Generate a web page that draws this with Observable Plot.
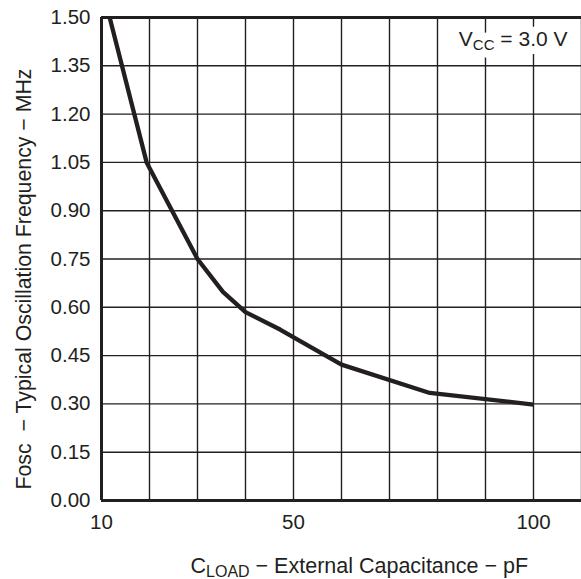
<!DOCTYPE html>
<html>
<head>
<meta charset="utf-8">
<script src="https://cdn.jsdelivr.net/npm/d3@7"></script>
<script src="https://cdn.jsdelivr.net/npm/@observablehq/plot@0.6"></script>
<style>
  html, body { margin: 0; padding: 0; background: #fff; }
  #chart svg { display: block; }
</style>
</head>
<body>
<div id="chart"></div>
<script>
// ---- data ----
const capacitance = [11.7, 19.4, 30, 35.3, 40, 47.2, 60, 78.4, 100];   // pF
const frequency   = [1.50, 1.05, 0.75, 0.648, 0.585, 0.531, 0.422, 0.334, 0.298]; // MHz
const xDomain = [10, 110];
const yDomain = [0, 1.5];
const xTicks = [10, 50, 100];
const xGrid = [10, 20, 30, 40, 50, 60, 70, 80, 90, 100, 110];
const yTicks = [0, 0.15, 0.30, 0.45, 0.60, 0.75, 0.90, 1.05, 1.20, 1.35, 1.50];
const vccText = ["VCC = 3.0 V"];
const xLabelText = ["CLOAD \u2212 External Capacitance \u2212 pF"];
const yLabelText = ["Fosc  \u2212 Typical Oscillation Frequency \u2212 MHz"];

const data = capacitance.map((c, i) => ({c, f: frequency[i]}));
const ink = "#231f20";
const vccOpts = {text: d => d, frameAnchor: "top-right", textAnchor: "end", lineAnchor: "top", dx: -14, dy: 14, fontSize: 21};

const chart = Plot.plot({
  width: 581,
  height: 579,
  marginLeft: 101,
  marginRight: 0,
  marginTop: 17,
  marginBottom: 79,
  style: {fontFamily: "'Liberation Sans', Arial, Helvetica, sans-serif", fontSize: "20px", color: ink, background: "white"},
  x: {type: "linear", domain: xDomain},
  y: {type: "linear", domain: yDomain},
  marks: [
    Plot.gridX(xGrid, {stroke: ink, strokeOpacity: 1, strokeWidth: 1.4}),
    Plot.gridY(yTicks, {stroke: ink, strokeOpacity: 1, strokeWidth: 1.4}),
    // white halo behind the Vcc note
    Plot.text(vccText, {...vccOpts, fill: "white", stroke: "white", strokeWidth: 16}),
    Plot.text(vccText, {...vccOpts, fill: ink}),
    Plot.ruleX([xDomain[0]], {stroke: ink, strokeWidth: 3}),
    Plot.ruleY(yDomain, {stroke: ink, strokeWidth: 3}),
    Plot.line(data, {x: "c", y: "f", stroke: ink, strokeWidth: 4.3, strokeLinejoin: "miter", strokeLinecap: "butt"}),
    Plot.axisX(xTicks, {tickSize: 0, tickPadding: 14, label: null, fontSize: 20.5}),
    Plot.axisY(yTicks, {tickSize: 0, tickPadding: 11, tickFormat: d3.format(".2f"), label: null, fontSize: 20.5}),
    Plot.text(xLabelText, {text: d => d, frameAnchor: "bottom-left", textAnchor: "start", lineAnchor: "middle",
      dx: 89, dy: 66, fontSize: 21.5, fill: ink}),
    Plot.text(yLabelText, {text: d => d, frameAnchor: "left", textAnchor: "middle", lineAnchor: "middle",
      rotate: -90, dx: -77, dy: 20, fontSize: 21.3, fill: ink})
  ]
});

// subscripts
const svg = d3.select(chart);
svg.selectAll("text").each(function () {
  const t = d3.select(this);
  const s = this.textContent;
  if (s === vccText[0]) {
    t.text(null);
    t.append("tspan").text("V");
    t.append("tspan").attr("dy", 4).attr("font-size", 15).text("CC");
    t.append("tspan").attr("dy", -4).text(" = 3.0 V");
  } else if (s === xLabelText[0]) {
    t.text(null);
    t.append("tspan").text("C");
    t.append("tspan").attr("dy", 4).attr("font-size", 16).text("LOAD");
    t.append("tspan").attr("dy", -4).text(" \u2212 External Capacitance \u2212 pF");
  } else if (s === yLabelText[0]) {
    t.style("white-space", "pre");
  }
});

document.getElementById("chart").appendChild(chart);
</script>
</body>
</html>
